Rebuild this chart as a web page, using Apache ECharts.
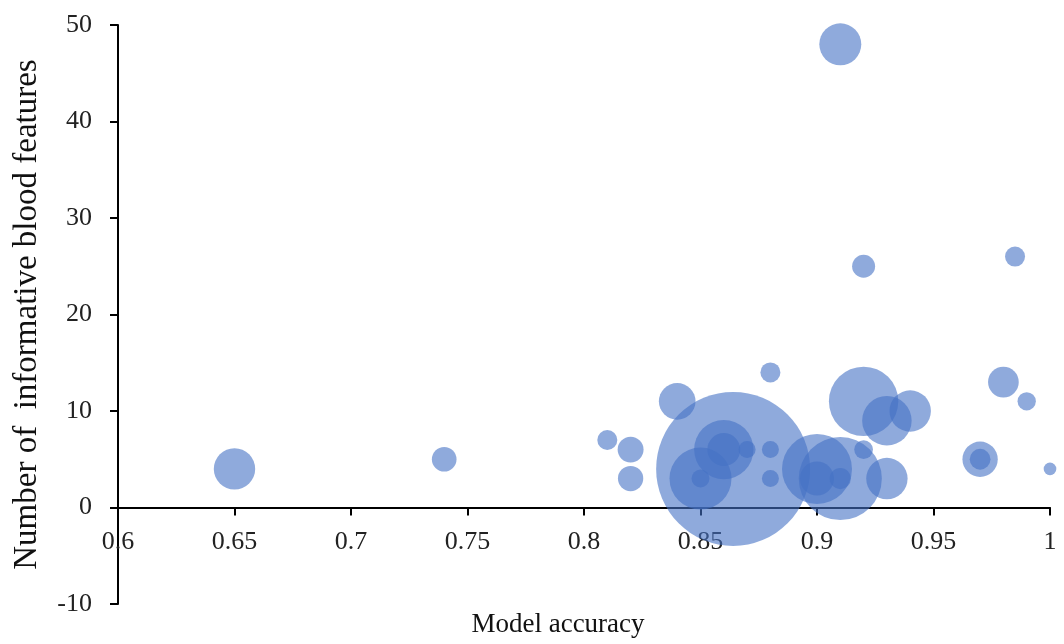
<!DOCTYPE html>
<html>
<head>
<meta charset="utf-8">
<script src="https://cdn.jsdelivr.net/npm/echarts@6/dist/echarts.min.js"></script>
<style>html,body{margin:0;padding:0;background:#fff;}#c{width:1064px;height:644px;}</style>
</head>
<body>
<div id="c"></div>
<script>
// Model accuracy (x)
var accuracy = [0.91, 0.92, 0.985, 0.98, 0.99, 1.0, 0.97, 0.97, 0.65, 0.74, 0.81, 0.82, 0.82, 0.84, 0.88, 0.864, 0.86, 0.86, 0.85, 0.85, 0.87, 0.88, 0.88, 0.92, 0.93, 0.94, 0.92, 0.93, 0.90, 0.91, 0.90, 0.91];
// Number of informative blood features (y)
var features = [48, 25, 26, 13, 11, 4, 5, 5, 4, 5, 7, 6, 3, 11, 14, 4, 6, 6, 3, 3, 6, 6, 3, 11, 9, 10, 6, 3, 4, 3, 3, 3];
// Bubble size value
var bubbleValue = [110, 33, 25, 59, 21, 10, 78, 27, 107, 38, 25, 42, 40, 84, 25, 1482, 220, 68, 240, 20, 18, 18, 18, 301, 153, 107, 22, 107, 306, 431, 72, 28];
var xTicks = {min: 0.6, max: 1, interval: 0.05};
var yTicks = {min: -10, max: 50, interval: 10};

var data = accuracy.map(function (a, i) { return [a, features[i], bubbleValue[i]]; });
var font = 'Liberation Serif';
var H = 644, gridTop = 25, gridBottom = 40;
var gridH = H - gridTop - gridBottom;
// move the x axis (line, ticks, labels, name) up to the y = 0 position
var zeroOffset = -(0 - yTicks.min) / (yTicks.max - yTicks.min) * gridH;

var chart = echarts.init(document.getElementById('c'), null, {renderer: 'canvas'});
chart.setOption({
  animation: false,
  backgroundColor: '#ffffff',
  grid: {left: 118, right: 14, top: gridTop, bottom: gridBottom, containLabel: false, outerBoundsMode: 'none'},
  xAxis: {
    type: 'value', min: xTicks.min, max: xTicks.max, interval: xTicks.interval,
    offset: zeroOffset,
    name: 'Model accuracy', nameLocation: 'middle', nameGap: 104,
    nameTextStyle: {fontFamily: font, fontSize: 27, color: '#111', padding: [0, 52, 0, 0]},
    axisLine: {onZero: false, lineStyle: {color: '#000', width: 2}},
    axisTick: {show: true, inside: false, length: 8, lineStyle: {color: '#000', width: 2}},
    axisLabel: {fontFamily: font, fontSize: 26, color: '#222', margin: 22,
      formatter: function (v) { return String(Math.round(v * 100) / 100); }},
    splitLine: {show: false}
  },
  yAxis: {
    type: 'value', min: yTicks.min, max: yTicks.max, interval: yTicks.interval,
    name: 'Number of  informative blood features', nameLocation: 'middle', nameGap: 74,
    nameTextStyle: {fontFamily: font, fontSize: 33, color: '#111'},
    axisLine: {onZero: false, lineStyle: {color: '#000', width: 2}},
    axisTick: {show: true, inside: false, length: 8, lineStyle: {color: '#000', width: 2}},
    axisLabel: {fontFamily: font, fontSize: 26, color: '#222', margin: 26},
    splitLine: {show: false}
  },
  series: [{
    type: 'scatter',
    data: data,
    symbolSize: function (v) { return 4 * Math.sqrt(v[2]); },
    itemStyle: {color: '#4472C4', opacity: 0.6},
    clip: false
  }]
});
</script>
</body>
</html>
